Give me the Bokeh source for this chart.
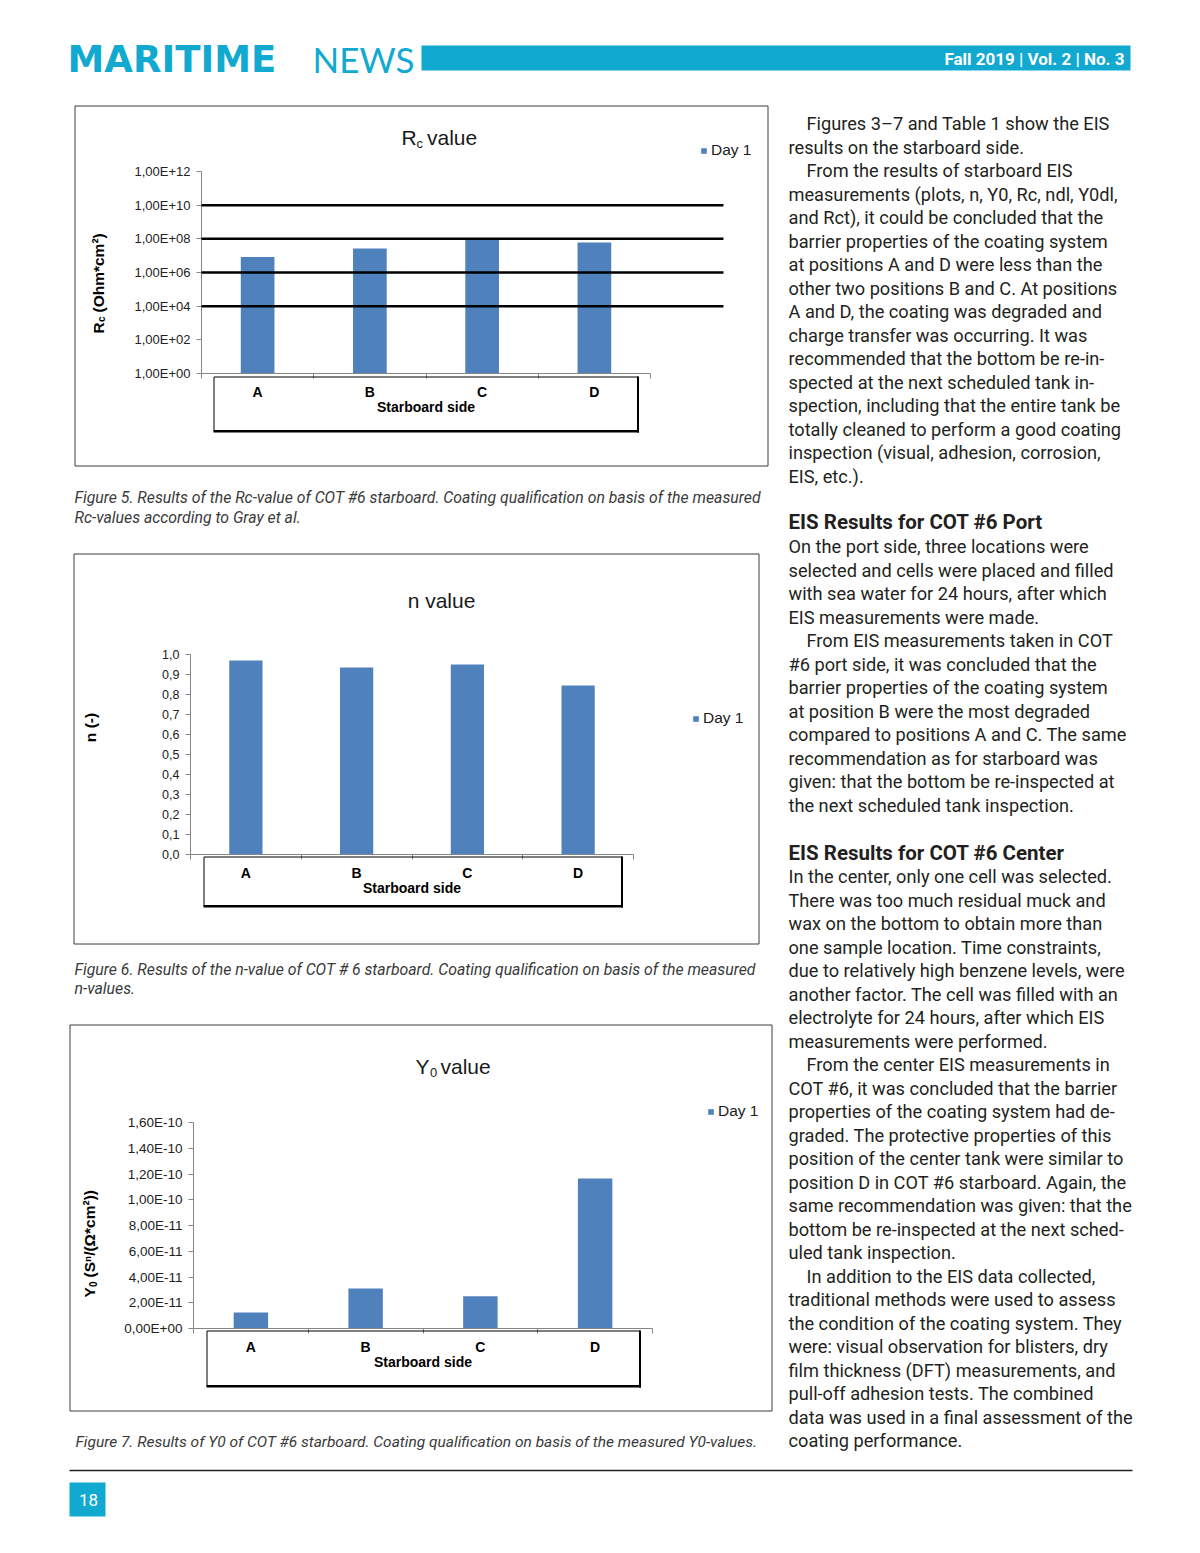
import json, math
from bokeh.plotting import figure
from bokeh.models import (Range1d, FixedTicker, CustomJSTickFormatter, BoxAnnotation,
                          PolyAnnotation, Label, Legend, LegendItem, ColumnDataSource)
from bokeh.layouts import column, row
from bokeh.embed import file_html
from bokeh.resources import INLINE
from bokeh.core.properties import value

# ---------------- data ----------------
categories = ["A", "B", "C", "D"]
x_axis_title = "Starboard side"
series_name = "Day 1"

rc_values = [8.4e6, 2.7e7, 1.1e8, 6.1e7]
rc_ticks = [1e0, 1e2, 1e4, 1e6, 1e8, 1e10, 1e12]
rc_tick_labels = ["1,00E+00", "1,00E+02", "1,00E+04", "1,00E+06", "1,00E+08", "1,00E+10", "1,00E+12"]
rc_thresholds = [1e4, 1e6, 1e8, 1e10]

n_values = [0.97, 0.935, 0.95, 0.845]
n_ticks = [0.0, 0.1, 0.2, 0.3, 0.4, 0.5, 0.6, 0.7, 0.8, 0.9, 1.0]
n_tick_labels = ["0,0", "0,1", "0,2", "0,3", "0,4", "0,5", "0,6", "0,7", "0,8", "0,9", "1,0"]

y0_values = [1.24e-11, 3.1e-11, 2.5e-11, 1.165e-10]
y0_ticks = [0.0, 2e-11, 4e-11, 6e-11, 8e-11, 1e-10, 1.2e-10, 1.4e-10, 1.6e-10]
y0_tick_labels = ["0,00E+00", "2,00E-11", "4,00E-11", "6,00E-11", "8,00E-11",
                  "1,00E-10", "1,20E-10", "1,40E-10", "1,60E-10"]

# ---------------- styles ----------------
PX0 = 0
LEFT_W = 780
RIGHT_W = 420
PAGE_W = 1200
CF = "Liberation Sans"
BF = "Roboto"
AXIS_GRAY = "#868686"
BAR_BLUE = "#4f81bd"
INK = "#231f20"
CYAN = "#12a9d1"


def lookup_formatter(ticks, labels):
    code = ("const tv = %s; const tl = %s;\n" % (json.dumps(ticks), json.dumps(labels)) +
            "let best = 0, bd = Infinity;\n"
            "for (let k = 0; k < tv.length; k++) {\n"
            "  const d = Math.abs(tv[k] - tick) / (Math.abs(tv[k]) + Math.abs(tick) + 1e-300);\n"
            "  if (d < bd) { bd = d; best = k; }\n"
            "}\n"
            "return tl[best];")
    return CustomJSTickFormatter(code=code)


def canvas_box(p, cx, cy, l, r, t, b, fill=None, line="#000", lw=1.0):
    p.add_layout(BoxAnnotation(left=cx(l), right=cx(r), top=cy(t), bottom=cy(b),
                               left_units="canvas", right_units="canvas",
                               top_units="canvas", bottom_units="canvas",
                               fill_color=fill, fill_alpha=1.0 if fill else 0.0,
                               line_color=line, line_alpha=1.0 if line else 0.0,
                               line_width=lw))


def make_chart(s):
    fy, h = s["fy"], s["h"]
    l, r, t, b = s["plot"]          # page pixel extents of the axes
    N = len(categories)
    cx = lambda x: x - PX0
    cy = lambda y: y - fy
    xpp = (r - l) / N
    x_range = Range1d((PX0 - l) / xpp, (PX0 + LEFT_W - l) / xpp)
    y0, y1 = s["ybounds"]
    if s["ytype"] == "log":
        e0, e1 = math.log10(y0), math.log10(y1)
        per = (b - t) / (e1 - e0)
        y_range = Range1d(10 ** (e0 - (fy + h - b) / per), 10 ** (e0 + (b - fy) / per))
    else:
        per = (b - t) / (y1 - y0)
        y_range = Range1d(y0 - (fy + h - b) / per, y0 + (b - fy) / per)

    p = figure(width=LEFT_W, height=h, output_backend="svg", toolbar_location=None,
               x_range=x_range, y_range=y_range, y_axis_type=s["ytype"],
               min_border=0, min_border_left=0, min_border_right=0,
               min_border_top=0, min_border_bottom=0)
    p.outline_line_color = None
    p.xgrid.visible = False
    p.ygrid.visible = False
    p.background_fill_color = "white"
    p.border_fill_color = "white"

    xs = [i + 0.5 for i in range(N)]
    src = ColumnDataSource(dict(x=xs, top=s["values"], cat=categories))
    bars = p.vbar(x="x", top="top", bottom=y0, width=0.3, source=src,
                  fill_color=BAR_BLUE, line_color=None)

    xa = p.xaxis[0]
    xa.fixed_location = y0
    xa.bounds = (0, N)
    xa.ticker = FixedTicker(ticks=xs, minor_ticks=list(range(N + 1)))
    xa.formatter = lookup_formatter(xs, categories)
    xa.major_tick_line_color = None
    xa.major_tick_out = 0
    xa.major_tick_in = 0
    xa.minor_tick_line_color = AXIS_GRAY
    xa.minor_tick_out = 5
    xa.minor_tick_in = 0
    xa.axis_line_color = AXIS_GRAY
    xa.major_label_text_font = CF
    xa.major_label_text_font_size = "14px"
    xa.major_label_text_font_style = "bold"
    xa.major_label_text_color = "#000"
    xa.major_label_standoff = 5
    xa.axis_label = x_axis_title
    xa.axis_label_text_font = CF
    xa.axis_label_text_font_size = "14px"
    xa.axis_label_text_font_style = "bold"
    xa.axis_label_text_color = "#000"
    xa.axis_label_standoff = -4

    ya = p.yaxis[0]
    ya.fixed_location = 0
    ya.bounds = (y0, y1)
    ya.ticker = FixedTicker(ticks=s["ticks"])
    ya.formatter = lookup_formatter(s["ticks"], s["tick_labels"])
    ya.axis_line_color = AXIS_GRAY
    ya.major_tick_line_color = AXIS_GRAY
    ya.major_tick_out = 5
    ya.major_tick_in = 0
    ya.minor_tick_line_color = None
    ya.major_label_text_font = CF
    ya.major_label_text_font_size = s["tick_size"]
    ya.major_label_text_color = "#222"
    ya.major_label_standoff = 6

    # threshold lines (Gray et al.)
    for th in s.get("thresholds", []):
        p.add_layout(PolyAnnotation(xs=[0, 4.65, 4.65, 0], ys=[th, th, th, th],
                                    xs_units="data", ys_units="data",
                                    fill_color=None, fill_alpha=0.0,
                                    line_color="#000", line_alpha=1.0, line_width=2.5))

    # chart area border
    bl, br, bt, bb = s["box"]
    canvas_box(p, cx, cy, bl + 0.5, br + 0.5, bt + 0.5, bb + 0.5, line="#3c3c3c", lw=1)
    # category box with shadowed bottom/right edge
    kl, kr, kt, kb = s["catbox"]
    canvas_box(p, cx, cy, kl + 0.5, kr + 0.5, kt + 0.5, kb + 0.5, line="#000", lw=1)
    canvas_box(p, cx, cy, kl, kr + 1.5, kb - 0.5, kb + 2, fill="#000", line=None)
    canvas_box(p, cx, cy, kr - 0.5, kr + 1.5, kt, kb + 2, fill="#000", line=None)

    def lab(x, y, text, size, style="normal", font=CF, color="#000", align="left", angle=0.0):
        p.add_layout(Label(x=cx(x), y=cy(y), x_units="canvas", y_units="canvas", text=text,
                           text_font=font, text_font_size="%spx" % size, text_font_style=style,
                           text_color=color, text_align=align, text_baseline="middle", angle=angle))

    for (x, y, txt, size, align) in s["title"]:
        lab(x, y, txt, size, color="#1a1a1a", align=align)
    for (x, y, txt, size, align) in s["ytitle"]:
        lab(x, y, txt, size, style="bold", align=align, angle=math.pi / 2)
    for (x, y, txt, size) in s["caption"]:
        lab(x, y, txt, size, style="italic", font=BF, color="#3a3a3a")

    lx, ly = s["legend"]          # left edge / vertical centre of the legend entry
    leg = Legend(items=[LegendItem(label=series_name, renderers=[bars])],
                 location=(lx - PX0, fy + h - (ly + 8)), padding=0, margin=0, spacing=0,
                 glyph_width=7, glyph_height=7, label_standoff=4, label_height=15,
                 label_text_font=CF, label_text_font_size="15.5px", label_text_color="#1a1a1a",
                 border_line_color=None, background_fill_alpha=0)
    p.add_layout(leg)
    return p


c1 = make_chart(dict(
    fy=100, h=440, plot=(201, 650, 171, 373), box=(74, 767, 105, 465), catbox=(213, 637, 376, 430),
    ytype="log", ybounds=(1e0, 1e12), ticks=rc_ticks, tick_labels=rc_tick_labels, values=rc_values,
    thresholds=rc_thresholds, tick_size="13px",
    title=[(401, 137, "R", 21, "left"), (416, 143, "c", 13, "left"), (426.5, 137, "value", 21, "left")],
    ytitle=[(98, 333, "R", 15.5, "left"), (101, 321.5, "c", 10, "left"), (98, 312, "(Ohm*cm²)", 15.5, "left")],
    caption=[(74, 497, "Figure 5. Results of the Rc-value of COT #6 starboard. Coating qualification on basis of the measured", 15.8),
             (74, 517, "Rc-values according to Gray et al.", 15.8)],
    legend=(700, 151)))

c2 = make_chart(dict(
    fy=540, h=470, plot=(190, 633, 654, 854), box=(73, 758, 553, 943), catbox=(203, 621, 856, 905),
    ytype="linear", ybounds=(0.0, 1.0), ticks=n_ticks, tick_labels=n_tick_labels, values=n_values,
    tick_size="12.5px",
    title=[(441, 600, "n value", 21, "center")],
    ytitle=[(90, 727, "n (-)", 15.5, "center")],
    caption=[(74, 969, "Figure 6. Results of the n-value of COT # 6 starboard. Coating qualification on basis of the measured", 15.8),
             (74, 988, "n-values.", 15.8)],
    legend=(692, 719)))

c3 = make_chart(dict(
    fy=1010, h=455, plot=(193, 652, 1122, 1328), box=(69, 771, 1024, 1410), catbox=(206, 639, 1330, 1385),
    ytype="linear", ybounds=(0.0, 1.6e-10), ticks=y0_ticks, tick_labels=y0_tick_labels, values=y0_values,
    tick_size="13.5px",
    title=[(415, 1066, "Y", 21, "left"), (429.5, 1072, "0", 13, "left"), (440, 1066, "value", 21, "left")],
    ytitle=[(89, 1297, "Y", 15.5, "left"), (92, 1286.5, "0", 10, "left"), (89, 1277, "(Sⁿ/(Ω*cm²))", 15.5, "left")],
    caption=[(75, 1441, "Figure 7. Results of Y0 of COT #6 starboard. Coating qualification on basis of the measured Y0-values.", 15.5)],
    legend=(707, 1112)))

# ---------------- header ----------------
hdr = figure(width=PAGE_W, height=100, output_backend="svg", toolbar_location=None,
             x_range=Range1d(0, PAGE_W), y_range=Range1d(100, 0),
             x_axis_location=None, y_axis_location=None, min_border=0)
hdr.outline_line_color = None
hdr.grid.visible = False
hdr.quad(left=[421], right=[1130], top=[45], bottom=[70], fill_color=CYAN, line_color=None)
hdr.text(x=[67], y=[58.5], text=["MARITIME"], text_font=value("DejaVu Sans"), text_font_style="bold",
         text_font_size="37px", text_color=CYAN, text_baseline="middle")
hdr.text(x=[312], y=[58.5], text=["NEWS"], text_font=value("Lato"),
         text_font_size="35px", text_color=CYAN, text_baseline="middle")
hdr.text(x=[1124], y=[58], text=["Fall 2019 | Vol. 2 | No. 3"], text_font=value(BF), text_font_style="bold",
         text_font_size="17px", text_color="white", text_align="right", text_baseline="middle")

# ---------------- right column ----------------
blocks = [
    (123, "body", [
        (1, "Figures 3–7 and Table 1 show the EIS"),
        (0, "results on the starboard side."),
        (1, "From the results of starboard EIS"),
        (0, "measurements (plots, n, Y0, Rc, ndl, Y0dl,"),
        (0, "and Rct), it could be concluded that the"),
        (0, "barrier properties of the coating system"),
        (0, "at positions A and D were less than the"),
        (0, "other two positions B and C. At positions"),
        (0, "A and D, the coating was degraded and"),
        (0, "charge transfer was occurring. It was"),
        (0, "recommended that the bottom be re-in-"),
        (0, "spected at the next scheduled tank in-"),
        (0, "spection, including that the entire tank be"),
        (0, "totally cleaned to perform a good coating"),
        (0, "inspection (visual, adhesion, corrosion,"),
        (0, "EIS, etc.)."),
    ]),
    (521, "head", [(0, "EIS Results for COT #6 Port")]),
    (546, "body", [
        (0, "On the port side, three locations were"),
        (0, "selected and cells were placed and filled"),
        (0, "with sea water for 24 hours, after which"),
        (0, "EIS measurements were made."),
        (1, "From EIS measurements taken in COT"),
        (0, "#6 port side, it was concluded that the"),
        (0, "barrier properties of the coating system"),
        (0, "at position B were the most degraded"),
        (0, "compared to positions A and C. The same"),
        (0, "recommendation as for starboard was"),
        (0, "given: that the bottom be re-inspected at"),
        (0, "the next scheduled tank inspection."),
    ]),
    (852, "head", [(0, "EIS Results for COT #6 Center")]),
    (876, "body", [
        (0, "In the center, only one cell was selected."),
        (0, "There was too much residual muck and"),
        (0, "wax on the bottom to obtain more than"),
        (0, "one sample location. Time constraints,"),
        (0, "due to relatively high benzene levels, were"),
        (0, "another factor. The cell was filled with an"),
        (0, "electrolyte for 24 hours, after which EIS"),
        (0, "measurements were performed."),
        (1, "From the center EIS measurements in"),
        (0, "COT #6, it was concluded that the barrier"),
        (0, "properties of the coating system had de-"),
        (0, "graded. The protective properties of this"),
        (0, "position of the center tank were similar to"),
        (0, "position D in COT #6 starboard. Again, the"),
        (0, "same recommendation was given: that the"),
        (0, "bottom be re-inspected at the next sched-"),
        (0, "uled tank inspection."),
        (1, "In addition to the EIS data collected,"),
        (0, "traditional methods were used to assess"),
        (0, "the condition of the coating system. They"),
        (0, "were: visual observation for blisters, dry"),
        (0, "film thickness (DFT) measurements, and"),
        (0, "pull-off adhesion tests. The combined"),
        (0, "data was used in a final assessment of the"),
        (0, "coating performance."),
    ]),
]
LINE_STEP = 23.5
body = dict(x=[], y=[], text=[])
head = dict(x=[], y=[], text=[])
for y0, kind, lines in blocks:
    tgt = body if kind == "body" else head
    for i, (ind, txt) in enumerate(lines):
        tgt["x"].append(788 + 18 * ind)
        tgt["y"].append(y0 + i * LINE_STEP)
        tgt["text"].append(txt)

rp = figure(width=RIGHT_W, height=1365, output_backend="svg", toolbar_location=None,
            x_range=Range1d(780, 1200), y_range=Range1d(1465, 100),
            x_axis_location=None, y_axis_location=None, min_border=0)
rp.outline_line_color = None
rp.grid.visible = False
rp.text(x="x", y="y", text="text", source=ColumnDataSource(body), text_font=value(BF),
        text_font_size="18.2px", text_color=INK, text_baseline="middle")
rp.text(x="x", y="y", text="text", source=ColumnDataSource(head), text_font=value(BF),
        text_font_style="bold", text_font_size="20.5px", text_color=INK, text_baseline="middle")

# ---------------- footer ----------------
ftr = figure(width=PAGE_W, height=80, output_backend="svg", toolbar_location=None,
             x_range=Range1d(0, PAGE_W), y_range=Range1d(1545, 1465),
             x_axis_location=None, y_axis_location=None, min_border=0)
ftr.outline_line_color = None
ftr.grid.visible = False
ftr.segment(x0=[69], x1=[1132], y0=[1470], y1=[1470], line_color="#222", line_width=1.5)
ftr.quad(left=[69], right=[105], top=[1482], bottom=[1516], fill_color=CYAN, line_color=None)
ftr.text(x=[88], y=[1499], text=["18"], text_font=value(BF), text_font_size="17px",
         text_color="white", text_align="center", text_baseline="middle")

page = column(hdr, row(column(c1, c2, c3), rp), ftr)
open("out.html", "w").write(file_html(page, INLINE, title="Maritime News"))
